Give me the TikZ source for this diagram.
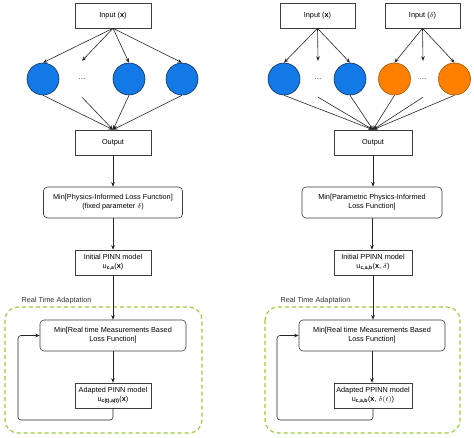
\documentclass[tikz,border=0pt]{standalone}
\usepackage{fontspec}
\setmainfont{Liberation Sans}
\usepackage{amsmath}
\usetikzlibrary{arrows.meta,positioning}
\definecolor{nnblue}{RGB}{18,121,230}
\definecolor{nnblueline}{RGB}{16,50,95}
\definecolor{nnorange}{RGB}{255,128,0}
\definecolor{nnorangeline}{RGB}{160,85,10}
\definecolor{adaptgreen}{RGB}{153,204,51}
\definecolor{boxline}{RGB}{60,60,60}

\begin{document}
\begin{tikzpicture}[x=1pt,y=-1pt,
				every node/.style={font=\fontsize{7.3}{8.8}\selectfont},
				plainbox/.style={rectangle,draw=boxline,line width=0.6pt,minimum width=76pt,minimum height=25pt,align=center,inner sep=1pt},
				lossbox/.style={rectangle,rounded corners=4pt,draw=boxline,line width=0.6pt,minimum height=31pt,align=center,inner sep=1pt},
				bluenode/.style={circle,fill=nnblue,draw=nnblueline,line width=0.6pt,minimum size=32pt,inner sep=0pt},
				orangenode/.style={circle,fill=nnorange,draw=nnorangeline,line width=0.6pt,minimum size=32pt,inner sep=0pt},
				dotnode/.style={minimum height=36pt,inner sep=0pt},
				link/.style={draw=black!85,line width=0.6pt,-{Stealth[length=4.5pt,width=3.6pt]}},
				adaptframe/.style={draw=adaptgreen,line width=1.1pt,dash pattern=on 4pt off 3pt,rounded corners=13pt},
				framelabel/.style={anchor=west,text=black!80}
				]
				\useasboundingbox (0,0) rectangle (474,438);
				% PINN (left)
				\node (inL) [plainbox] at (113,15.5) {Input (\textbf{x})};
				\node (c1) [bluenode] at (43,79) {};
				\node (dotsL) [dotnode] at (82,79) {\dots};
				\node (c2) [bluenode] at (129,79) {};
				\node (c3) [bluenode] at (182,79) {};
				\node (outL) [plainbox] at (113,142.5) {Output};
				\node (lossL) [lossbox,minimum width=139pt] at (113,202.5) {Min[Physics-Informed Loss Function]\\(fixed parameter $\delta$)};
				\node (initL) [plainbox] at (113,262.5) {Initial PINN model\\u\textsubscript{\textbf{c,a}}(\textbf{x})};
				\draw [adaptframe] (5,307) rectangle (202,433);
				\node (labL) [framelabel] at (18,301) {Real Time Adaptation};
				\node (realL) [lossbox,minimum width=146pt] at (113,335.5) {Min[Real time Measurements Based\\Loss Function]};
				\node (adaL) [plainbox] at (113,395.5) {Adapted PINN model\\u\textsubscript{\textbf{c(t),a(t)}}(\textbf{x})};
				\coordinate (loopL) at (18,420);
				\foreach \n in {c1,dotsL,c2,c3}
				{
					\draw [link] (inL.south) -- (\n.north);
					\draw [link] (\n.south) -- (outL.north);
				}
				\draw [link] (outL.south) -- (outL.south |- lossL.north);
				\draw [link] (lossL.south) -- (lossL.south |- initL.north);
				\draw [link] (initL.south) -- (initL.south |- realL.north);
				\draw [link] (realL.south) -- (realL.south |- adaL.north);
				\draw [link,rounded corners=3pt] (adaL.south) |- (loopL) |- (realL.west);
				% PPINN (right)
				\node (inXR) [plainbox,minimum width=75pt] at (317.5,15.5) {Input (\textbf{x})};
				\node (inDR) [plainbox,minimum width=75pt] at (422.5,15.5) {Input ($\delta$)};
				\node (b1) [bluenode] at (284,79) {};
				\node (dotsR1) [dotnode] at (318,79) {\dots};
				\node (b2) [bluenode] at (350,79) {};
				\node (o1) [orangenode] at (394.5,79) {};
				\node (dotsR2) [dotnode] at (423,79) {\dots};
				\node (o2) [orangenode] at (454.5,79) {};
				\node (outR) [plainbox,minimum width=78pt] at (373,142.5) {Output};
				\node (lossR) [lossbox,minimum width=140pt] at (372,202.5) {Min[Parametric Physics-Informed\\Loss Function]};
				\node (initR) [plainbox,minimum width=78pt] at (373,262.5) {Initial PPINN model\\u\textsubscript{\textbf{c,a,b}}(\textbf{x}, $\delta$)};
				\draw [adaptframe] (265,307) rectangle (460,433);
				\node (labR) [framelabel] at (277,301) {Real Time Adaptation};
				\node (realR) [lossbox,minimum width=146pt] at (372,335.5) {Min[Real time Measurements Based\\Loss Function]};
				\node (adaR) [plainbox,minimum width=78pt] at (373,395.5) {Adapted PPINN model\\u\textsubscript{\textbf{c,a,b}}(\textbf{x}, $\delta(t)$)};
				\coordinate (loopR) at (277,420);
				\foreach \n in {b1,dotsR1,b2}
					\draw [link] (inXR.south) -- (\n.north);
				\foreach \n in {o1,dotsR2,o2}
					\draw [link] (inDR.south) -- (\n.north);
				\foreach \n in {b1,dotsR1,b2,o1,dotsR2,o2}
					\draw [link] (\n.south) -- (outR.north);
				\draw [link] (outR.south) -- (outR.south |- lossR.north);
				\draw [link] (lossR.south) -- (lossR.south |- initR.north);
				\draw [link] (initR.south) -- (initR.south |- realR.north);
				\draw [link] (realR.south) -- (realR.south |- adaR.north);
				\draw [link,rounded corners=3pt] (adaR.south) |- (loopR) |- (realR.west);
\end{tikzpicture}
\end{document}
